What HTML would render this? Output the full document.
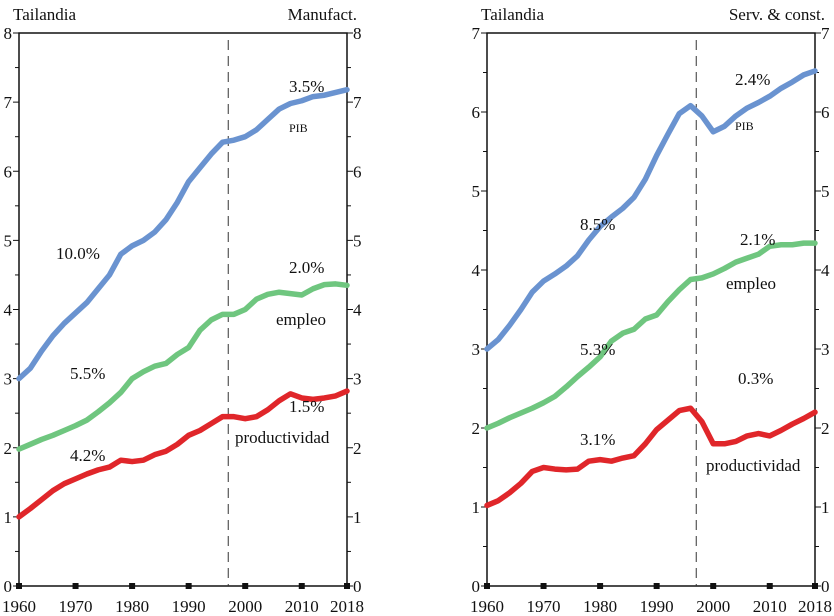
<!DOCTYPE html>
<html><head><meta charset="utf-8"><style>
body{margin:0;background:#fff}
svg{display:block;font-family:"Liberation Serif",serif;font-size:17px;fill:#111}
</style></head><body>
<svg id="c" width="834" height="616" viewBox="0 0 834 616"></svg>
<script>
const years=[1960,1962,1964,1966,1968,1970,1972,1974,1976,1978,1980,1982,1984,1986,1988,1990,1992,1994,1996,1998,2000,2002,2004,2006,2008,2010,2012,2014,2016,2018];
const manPib=[3.0,3.15,3.4,3.62,3.8,3.95,4.1,4.3,4.5,4.8,4.92,5.0,5.12,5.3,5.55,5.85,6.05,6.25,6.42,6.45,6.5,6.6,6.75,6.9,6.98,7.02,7.08,7.1,7.14,7.18];
const manEmp=[1.98,2.05,2.12,2.18,2.25,2.32,2.4,2.52,2.65,2.8,3.0,3.1,3.18,3.22,3.35,3.45,3.7,3.85,3.93,3.93,4.0,4.15,4.22,4.25,4.23,4.21,4.3,4.36,4.37,4.35];
const manProd=[1.0,1.12,1.25,1.38,1.48,1.55,1.62,1.68,1.72,1.82,1.8,1.82,1.9,1.95,2.05,2.18,2.25,2.35,2.45,2.45,2.42,2.45,2.55,2.68,2.78,2.72,2.7,2.72,2.75,2.82];
const serPib=[3.0,3.12,3.3,3.5,3.72,3.86,3.95,4.05,4.18,4.38,4.55,4.67,4.78,4.92,5.15,5.45,5.72,5.98,6.08,5.95,5.75,5.82,5.95,6.05,6.12,6.2,6.3,6.38,6.47,6.52];
const serEmp=[2.0,2.06,2.13,2.19,2.25,2.32,2.4,2.52,2.65,2.77,2.9,3.1,3.2,3.25,3.38,3.43,3.6,3.75,3.88,3.9,3.95,4.02,4.1,4.15,4.2,4.3,4.32,4.32,4.34,4.34];
const serProd=[1.02,1.08,1.18,1.3,1.45,1.5,1.48,1.47,1.48,1.58,1.6,1.58,1.62,1.65,1.8,1.98,2.1,2.22,2.25,2.08,1.8,1.8,1.83,1.9,1.93,1.9,1.97,2.05,2.12,2.2];
const xTicks=[1960,1970,1980,1990,2000,2010,2018];
const NS='http://www.w3.org/2000/svg';
const svg=document.getElementById('c');
function mk(t,a,p){const e=document.createElementNS(NS,t);for(const k in a)e.setAttribute(k,a[k]);(p||svg).appendChild(e);return e;}
function panel(o){
  const g=mk('g',{});
  
  
  const X=y=>o.x0+(y-1960)*(o.x1-o.x0)/58, Y=v=>586-v*(586-33)/o.max;
  mk('rect',{x:o.x0,y:33,width:o.x1-o.x0,height:553,fill:'none',stroke:'#111','stroke-width':1.5},g);
  for(let v=0;v<=o.max;v++){
    for(const s of [[o.x0,-1],[o.x1,1]]){
      mk('line',{x1:s[0],x2:s[0]+s[1]*6,y1:Y(v),y2:Y(v),stroke:'#111'},g);
      if(v<o.max)mk('line',{x1:s[0],x2:s[0]+s[1]*4,y1:Y(v+.5),y2:Y(v+.5),stroke:'#111'},g);
    }
    const t1=mk('text',{x:o.x0-7,y:Y(v)+6,'text-anchor':'end'},g);t1.textContent=v;
    
    const t2=mk('text',{x:o.x1+6,y:Y(v)+6},g);t2.textContent=v;
    
  }
  xTicks.forEach(y=>{
    mk('rect',{x:X(y)-3,y:583,width:6,height:6,fill:'#111'},g);
    const t=mk('text',{x:X(y),y:612,'text-anchor':'middle'},g);t.textContent=y;
    
  });
  mk('line',{x1:X(1997),x2:X(1997),y1:40,y2:586,stroke:'#333','stroke-dasharray':'10,6'},g);
  [[o.pib,'#6a93d0','pib-line'],[o.emp,'#6fc67f','empleo-line'],[o.prod,'#e0262a','productividad-line']].forEach(s=>{
    const p=mk('polyline',{points:years.map((y,i)=>X(y)+','+Y(s[0][i])).join(' '),fill:'none',stroke:s[1],'stroke-width':5.5,'stroke-linejoin':'round','stroke-linecap':'round'},g);
    
  });
  o.labels.forEach(l=>{const t=mk('text',{x:l[0],y:l[1],'font-size':l[3]||17},g);t.textContent=l[2];
    });
  const a=mk('text',{x:o.x0-6,y:20},g);a.textContent='Tailandia';
  const b=mk('text',{x:o.x1+10,y:20,'text-anchor':'end'},g);b.textContent=o.title;
}
panel({name:'manufact-panel',x0:19,x1:347,max:8,title:'Manufact.',pib:manPib,emp:manEmp,prod:manProd,
 labels:[[289,92,'3.5%'],[289,132,'PIB',12],[56,259,'10.0%'],[289,273,'2.0%'],[276,325,'empleo'],[70,379,'5.5%'],[289,412,'1.5%'],[235,443,'productividad'],[70,461,'4.2%']]});
panel({name:'serv-panel',x0:487,x1:815,max:7,title:'Serv. & const.',pib:serPib,emp:serEmp,prod:serProd,
 labels:[[735,85,'2.4%'],[735,130,'PIB',12],[580,230,'8.5%'],[740,245,'2.1%'],[726,289,'empleo'],[580,355,'5.3%'],[580,445,'3.1%'],[738,384,'0.3%'],[706,471,'productividad']]});
</script>
</body></html>
